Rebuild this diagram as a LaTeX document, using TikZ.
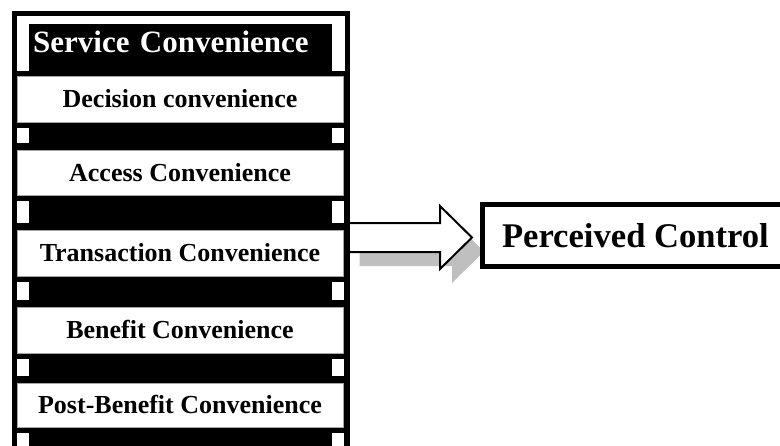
\documentclass[tikz,border=0pt]{standalone}
\usepackage{fontspec}
\setmainfont{Liberation Serif}
\usetikzlibrary{calc}
\pgfdeclarelayer{bottom}
\pgfdeclarelayer{background}
\pgfsetlayers{bottom,background,main}
\newcommand\blockarrow[1]{($(astart)+(#1)+(0,-14.5)$) -- ($(atip)+(#1)+(-32,-14.5)$) -- ($(atip)+(#1)+(-32,-31.5)$) -- ($(atip)+(#1)$) -- ($(atip)+(#1)+(-32,31.5)$) -- ($(atip)+(#1)+(-32,14.5)$) -- ($(astart)+(#1)+(0,14.5)$)}
\begin{document}
\begin{tikzpicture}[x=1pt,y=-1pt,
  frameline/.style={line width=5pt},
  hole/.style={fill=white},
  cbox/.style={draw=gray!70, line width=0.8pt, fill=white, minimum width=326pt,
    inner sep=0pt, text height=17.7pt, text depth=0pt,
    font=\fontsize{26}{30}\selectfont\bfseries, text=black},
  hdrbox/.style={fill=black, text=white, anchor=north west, inner xsep=4pt, inner ysep=0pt,
    text width=295pt, align=left, minimum height=47pt,
    text height=21.4pt, text depth=12.4pt,
    font=\fontsize{31}{34}\selectfont\bfseries},
  target/.style={draw=black, fill=white, line width=5pt, inner xsep=20pt, inner ysep=0pt,
    minimum height=62pt, anchor=west, text height=23.5pt, text depth=0pt,
    font=\fontsize{34.6}{40}\selectfont\bfseries},
  shaft/.style={draw=black, fill=white, line width=2pt, line join=miter},
  shade/.style={fill=gray!50}]
\useasboundingbox (0,0) rectangle (780,445);
\begin{pgfonlayer}{bottom}
\fill[white] (0,0) rectangle (780,445);
\end{pgfonlayer}
% film strip
\fill[black] (17,16) rectangle (345,460);
\fill[hole] (17,16) rectangle (345,24);
\fill[hole] (17,16) rectangle (29,71);
\fill[hole] (332,16) rectangle (345,71);
\foreach \a/\b in {128/143,201/223,282/300,359/376,433/460}{
  \fill[hole] (17,\a) rectangle (29,\b);
  \fill[hole] (332,\a) rectangle (344,\b);
}
\node[hdrbox] (hdr) at (29,24) {Service Convenience};
\node[cbox, minimum height=46pt] (dec) at (180,99) {Decision convenience};
\node[cbox, minimum height=45pt] (acc) at (180,172.5) {Access Convenience};
\node[cbox, minimum height=46pt] (tra) at (180,253) {Transaction Convenience};
\node[cbox, minimum height=46pt] (ben) at (180,330) {Benefit Convenience};
\node[cbox, minimum height=44pt] (post) at (180,405) {Post-Benefit Convenience};
\draw[frameline] (14.5,470) -- (14.5,13.5) -- (347.5,13.5) -- (347.5,470);
% target
\node[target] (pc) at (479.5,235.5) {Perceived Control};
\coordinate (astart) at (347.5,237.5);
\coordinate (atip) at ($(pc.west)+(-7.5,2)$);
\begin{pgfonlayer}{background}
\fill[shade] \blockarrow{12,14} -- cycle;
\filldraw[shaft] \blockarrow{0,0};
\end{pgfonlayer}
\end{tikzpicture}
\end{document}
